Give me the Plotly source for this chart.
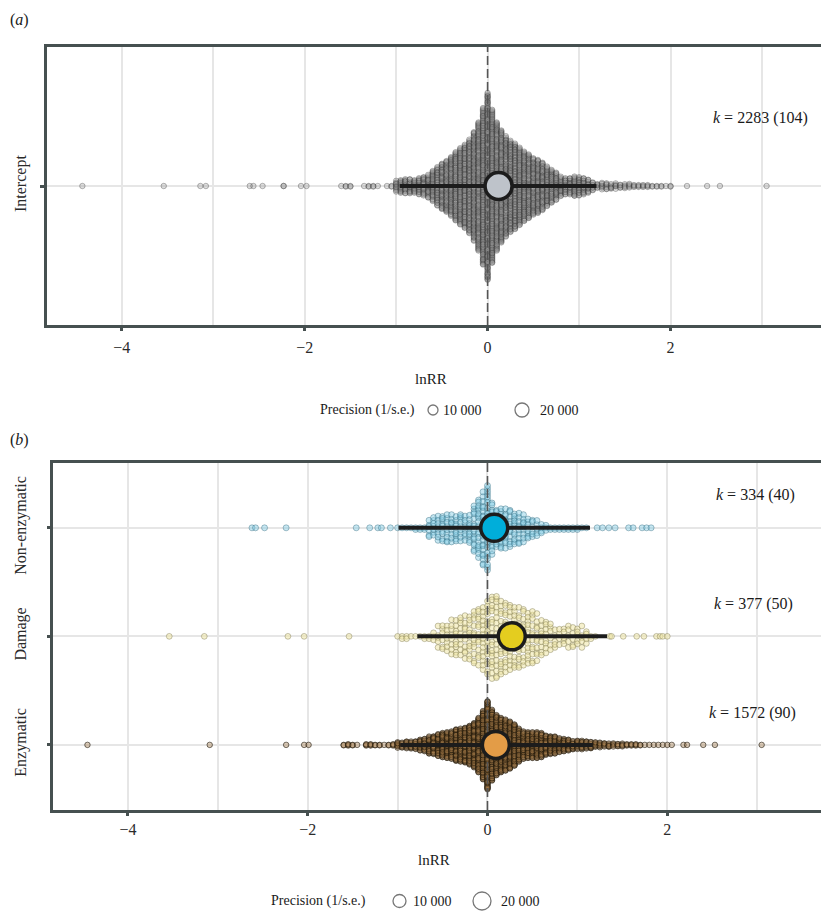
import plotly.graph_objects as go

W, H = 821, 912
SERIF = "'Liberation Serif', 'Times New Roman', Times, serif"
STEP = 0.05  # bin width (lnRR) of the effect-size counts

# ---------------- data ----------------
# (a) Intercept model: effect counts per 0.05 lnRR bin starting at -1.60, plus isolated outliers
intercept_bin_start = -1.60
intercept_counts = [1, 2, 2, 0, 0, 1, 2, 2, 1, 0, 1, 2,
                    10, 13, 13, 13, 13, 15, 17, 20, 27, 34,
                    40, 45, 52, 59, 66, 72, 81, 94, 111, 134,
                    160,
                    131, 111, 97, 87, 79, 74, 67, 60, 55, 50,
                    47, 42, 35, 29, 24, 18, 15, 15, 17, 17,
                    15, 12, 8, 5,
                    6, 6, 5, 5, 4, 4, 4, 3, 3, 3, 3, 2, 2, 2, 1, 2]
intercept_outliers = [-4.43, -3.54, -3.14, -3.08, -2.60, -2.56, -2.46, -2.23, -2.23,
                      -2.04, -1.98, 2.18, 2.40, 2.54, 3.05]
intercept_est = 0.12
intercept_pi = [-0.96, 1.19]
intercept_k = "<i>k</i> = 2283 (104)"

# (b) moderator groups
groups = ["Enzymatic", "Damage", "Non-enzymatic"]          # bottom -> top
group_bin_start = [-1.60, -1.00, -1.00]
group_counts = [
    [2, 3, 2, 1, 0, 3, 3, 2, 2, 1, 2, 3,
     7, 7, 9, 9, 11, 14, 16, 21, 23, 27,
     30, 32, 34, 39, 41, 43, 48, 55, 66, 83,
     107,
     86, 73, 66, 62, 57, 50, 41, 34, 32, 32,
     32, 30, 25, 23, 21, 18, 16, 14, 11, 11,
     11, 9, 9, 7,
     6, 5, 5, 4, 4, 4, 3, 3, 3, 2, 1, 1, 1, 1, 1, 1, 1],
    [1, 2, 2, 1, 1, 1, 2, 2, 3, 5,
     6, 7, 8, 9, 9, 10, 11, 12, 13, 15,
     17,
     19, 18, 17, 16, 15, 14, 14, 13, 13, 12,
     11, 9, 8, 6, 5, 4, 5, 5, 5, 5,
     5, 4, 2, 1],
    [1, 1, 1, 1, 2, 2, 2, 6, 7, 8,
     9, 9, 9, 9, 9, 8, 10, 15, 19, 23,
     27,
     17, 12, 13, 13, 12, 11, 10, 9, 7, 6,
     5, 4, 3, 2, 2, 2, 2, 2, 2, 2,
     1, 1],
]
group_outliers = [
    [-4.45, -3.09, -2.24, -2.04, -1.99, 2.18, 2.22, 2.40, 2.53, 3.05],
    [-3.54, -3.15, -2.22, -2.04, -1.54, 1.36, 1.38, 1.51, 1.66, 1.74, 1.88, 1.92, 1.95, 2.00],
    [-2.62, -2.58, -2.48, -2.24, -1.46, -1.31, -1.22, -1.18, -1.08,
     1.22, 1.28, 1.35, 1.42, 1.57, 1.62, 1.72, 1.77, 1.82],
]
group_est = [0.093, 0.27, 0.075]
group_pi = [[-0.97, 1.17], [-0.78, 1.33], [-0.99, 1.14]]
group_k = ["<i>k</i> = 1572 (90)", "<i>k</i> = 377 (50)", "<i>k</i> = 334 (40)"]

x_ticks = [-4, -2, 0, 2]
x_ticktext = ["\u22124", "\u22122", "0", "2"]
legend_values = ["10 000", "20 000"]

# ---------------- styles ----------------
pt_fill = ["rgba(160,118,68,0.38)", "rgba(238,230,165,0.55)", "rgba(130,205,228,0.45)"]
pt_line = ["rgba(28,20,8,0.78)", "rgba(120,115,75,0.55)", "rgba(50,105,125,0.55)"]
pt_size = [5.5, 5.8, 6.0]
mean_fill = ["#E39C47", "#E4CD1F", "#00AEDA"]
AXC = "#465050"
GRID = "#e6e6e6"


def vdc(i, base=2):
    v, denom = 0.0, 1.0
    while i:
        denom *= base
        i, rem = divmod(i, base)
        v += rem / denom
    return v


def swarm(start, counts, outliers, center, hmax):
    xs, ys = [], []
    nmax = max(counts)
    for j, n in enumerate(counts):
        x = round(start + j * STEP, 2)
        h = hmax * n / nmax
        shift = (j * 5) % 16 if n >= 4 else 0
        for i in range(1, n + 1):
            xs.append(x)
            ys.append(center + (2 * vdc(i + shift) - 1) * h)
    for o in outliers:
        xs.append(o)
        ys.append(center)
    return xs, ys


fig = go.Figure()

# ---------- panel (a) ----------
YA = [-1, 1]
xs, ys = swarm(intercept_bin_start, intercept_counts, intercept_outliers, 0, 0.68)
fig.add_trace(go.Scatter(x=xs, y=ys, mode="markers", xaxis="x", yaxis="y",
                         marker=dict(size=5.5, color="rgba(135,135,135,0.28)",
                                     line=dict(color="rgba(40,40,40,0.45)", width=0.7)),
                         hoverinfo="skip", showlegend=False))
fig.add_trace(go.Scatter(x=[0, 0], y=YA, mode="lines", xaxis="x", yaxis="y",
                         line=dict(color="#555555", width=1.6, dash="9px,4px"),
                         hoverinfo="skip", showlegend=False))
fig.add_trace(go.Scatter(x=intercept_pi, y=[0, 0], mode="lines", xaxis="x", yaxis="y",
                         line=dict(color="#1c1c1c", width=4), showlegend=False))
fig.add_trace(go.Scatter(x=[intercept_est], y=[0], mode="markers", xaxis="x", yaxis="y",
                         marker=dict(size=27, color="#BEC3CA", line=dict(color="#1c1c1c", width=3.5)),
                         showlegend=False))

# ---------- panel (b) ----------
YB = [0.4, 3.6]
for g in range(3):
    xs, ys = swarm(group_bin_start[g], group_counts[g], group_outliers[g], g + 1, 0.415)
    fig.add_trace(go.Scatter(x=xs, y=ys, mode="markers", xaxis="x2", yaxis="y2",
                             marker=dict(size=pt_size[g], color=pt_fill[g],
                                         line=dict(color=pt_line[g], width=0.75)),
                             hoverinfo="skip", showlegend=False))
fig.add_trace(go.Scatter(x=[0, 0], y=YB, mode="lines", xaxis="x2", yaxis="y2",
                         line=dict(color="#555555", width=1.6, dash="9px,4px"),
                         hoverinfo="skip", showlegend=False))
for g in range(3):
    fig.add_trace(go.Scatter(x=group_pi[g], y=[g + 1, g + 1], mode="lines", xaxis="x2", yaxis="y2",
                             line=dict(color="#1c1c1c", width=4), showlegend=False))
    fig.add_trace(go.Scatter(x=[group_est[g]], y=[g + 1], mode="markers", xaxis="x2", yaxis="y2",
                             marker=dict(size=27, color=mean_fill[g], line=dict(color="#1c1c1c", width=3.5)),
                             showlegend=False))


def xaxis_style(domain, rng, anchor, standoff):
    return dict(domain=domain, range=rng, anchor=anchor, tickmode="array", tickvals=x_ticks,
                ticktext=x_ticktext, showgrid=True, gridcolor=GRID, gridwidth=2,
                minor=dict(tick0=0, dtick=1, showgrid=True, gridcolor=GRID, gridwidth=2, ticks=""),
                showline=True, mirror=True, linecolor=AXC, linewidth=2.5, ticks="outside",
                ticklen=3, tickwidth=2.5, tickcolor=AXC, zeroline=False, automargin=False,
                ticklabelstandoff=standoff,
                tickfont=dict(family=SERIF, size=16, color="#2a2a2a"))


def yaxis_style(domain, rng, anchor, vals, text, standoff):
    return dict(domain=domain, range=rng, anchor=anchor, tickmode="array", tickvals=vals,
                ticktext=text, tickangle=-90, showgrid=True, gridcolor=GRID, gridwidth=2.2,
                showline=True, mirror=False, linecolor=AXC, linewidth=2.5, ticks="outside",
                ticklen=4, tickwidth=2.5, tickcolor=AXC, zeroline=False, automargin=False,
                ticklabelstandoff=standoff,
                tickfont=dict(family=SERIF, size=16, color="#2a2a2a"))


fig.update_layout(
    width=W, height=H, margin=dict(l=0, r=0, t=0, b=0),
    paper_bgcolor="white", plot_bgcolor="white", showlegend=False,
    font=dict(family=SERIF),
    xaxis=xaxis_style([46.7 / W, 1], [-4.82, 3.645], "y", 3),
    yaxis=yaxis_style([1 - 325 / H, 1 - 47 / H], YA, "x", [0], ["Intercept"], 8),
    xaxis2=xaxis_style([53.3 / W, 1], [-4.83, 3.71], "y2", 0),
    yaxis2=yaxis_style([1 - 810 / H, 1 - 462.7 / H], YB, "x2", [1, 2, 3], groups, 14),
)


def ann(text, x, y, xanchor="center", size=15):
    fig.add_annotation(text=text, x=x / W, y=1 - y / H, xref="paper", yref="paper",
                       xanchor=xanchor, yanchor="middle", showarrow=False,
                       font=dict(family=SERIF, size=size, color="#1a1a1a"))


ann("(<i>a</i>)", 19.5, 20, size=16)
ann("(<i>b</i>)", 19, 440, size=16)
ann("lnRR", 431, 379, size=15)
ann("lnRR", 434, 860, size=15)
ann(intercept_k, 810, 118, xanchor="right", size=16)
for g, yk in zip(range(3), [713, 604, 495]):
    ann(group_k[g], [798, 795, 797][g], yk, xanchor="right", size=16)


def legend(y, text_right, c1, d1, t1, c2, d2, t2):
    ann("Precision (1/s.e.)", text_right, y, xanchor="right", size=14)
    for cx, d, tx, lab in [(c1, d1, t1, legend_values[0]), (c2, d2, t2, legend_values[1])]:
        r = d / 2
        fig.add_shape(type="circle", xref="paper", yref="paper",
                      x0=(cx - r) / W, x1=(cx + r) / W, y0=1 - (y + r) / H, y1=1 - (y - r) / H,
                      line=dict(color="#777777", width=1.3), fillcolor="rgba(0,0,0,0)")
        ann(lab, tx, y, xanchor="left", size=14)


legend(410, 417, 433, 10, 441, 522, 14, 538)
legend(901, 368, 399.5, 13, 411, 482, 18, 499)

fig.write_html("out.html", config={"displayModeBar": False},
               post_script="document.body.style.margin='0';document.body.style.padding='0';"
                           "document.body.style.overflow='hidden';")
